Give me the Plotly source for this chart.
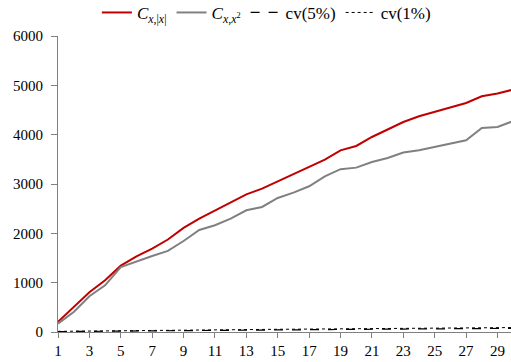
import plotly.graph_objects as go

periods = list(range(1, 31))
c_abs = [205, 505, 805, 1050, 1345, 1535, 1690, 1875, 2110, 2298,
         2467, 2623, 2791, 2907, 3055, 3211, 3345, 3494, 3683, 3771,
         3953, 4109, 4257, 4373, 4460, 4555, 4642, 4778, 4833, 4915]
c_sq = [170, 405, 724, 947, 1318, 1433, 1541, 1643, 1845, 2068,
        2163, 2298, 2467, 2534, 2717, 2826, 2954, 3156, 3300, 3332,
        3446, 3527, 3637, 3683, 3750, 3805, 3886, 4135, 4156, 4275]
cv5 = [9, 12, 14, 17, 20, 22, 25, 27, 29, 32, 34, 36, 38, 41, 43,
       45, 47, 49, 51, 53, 55, 58, 60, 62, 64, 66, 68, 70, 72, 74]
cv1 = [13, 17, 20, 24, 27, 30, 33, 36, 39, 42, 44, 47, 50, 52, 55,
       57, 60, 62, 65, 67, 70, 72, 74, 77, 79, 81, 84, 86, 88, 90]
tick_vals = list(range(1, 30, 2))
y_ticks = [0, 1000, 2000, 3000, 4000, 5000, 6000]

font = "Liberation Serif"

fig = go.Figure()
fig.add_trace(go.Scatter(x=periods, y=c_abs, mode="lines",
                         name="<i>C</i><sub><i>x</i>,|<i>x</i>|</sub>",
                         line=dict(color="#C00000", width=2)))
fig.add_trace(go.Scatter(x=periods, y=c_sq, mode="lines",
                         name="<i>C</i><sub><i>x</i>,<i>x</i><sup>2</sup></sub>",
                         line=dict(color="#808080", width=2)))
fig.add_trace(go.Scatter(x=periods, y=cv5, mode="lines", name="cv(5%)",
                         line=dict(color="black", width=1.2, dash="dash")))
fig.add_trace(go.Scatter(x=periods, y=cv1, mode="lines", name="cv(1%)",
                         line=dict(color="black", width=1, dash="dot")))

fig.update_layout(
    width=511, height=362,
    margin=dict(l=58, r=0, t=36, b=30, autoexpand=False),
    paper_bgcolor="white", plot_bgcolor="white",
    font=dict(family=font, size=15, color="black"),
    showlegend=True,
    legend=dict(orientation="h", x=0.46, xanchor="center", y=1.078, yanchor="middle",
                font=dict(family=font, size=17), itemwidth=30,
                tracegroupgap=0, bgcolor="rgba(0,0,0,0)"),
    xaxis=dict(range=[1, 29.86], tickmode="array", tickvals=tick_vals,
               ticks="outside", ticklen=5, tickcolor="#808080",
               tickfont=dict(family=font, size=15),
               showline=True, linecolor="#808080", linewidth=1,
               showgrid=False, zeroline=False),
    yaxis=dict(range=[0, 6000], tickmode="array", tickvals=y_ticks,
               ticks="outside", ticklen=6, tickcolor="#808080",
               tickfont=dict(family=font, size=15), ticklabelstandoff=5,
               showline=True, linecolor="#808080", linewidth=1,
               showgrid=False, zeroline=False),
)

fig.write_html("out.html", config={"displayModeBar": False})
with open("out.html", "r", encoding="utf-8") as f:
    html = f.read()
html = html.replace("<head>", "<head><style>html,body{margin:0;padding:0;overflow:hidden;}</style>", 1)
with open("out.html", "w", encoding="utf-8") as f:
    f.write(html)
